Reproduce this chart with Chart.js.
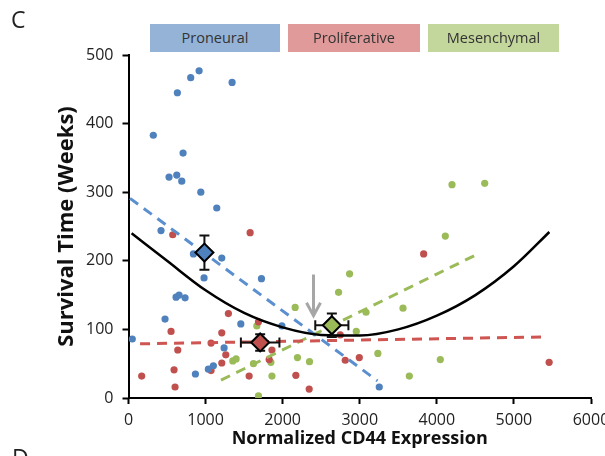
<!DOCTYPE html>
<html>
<head>
<meta charset="utf-8">
<script src="https://cdn.jsdelivr.net/npm/chart.js@4.4.1/dist/chart.umd.min.js"></script>
<style>
  html, body { margin: 0; padding: 0; background: #fff; }
  #wrap { position: relative; width: 605px; height: 456px; overflow: hidden; font-family: "Open Sans", sans-serif; }
  #c { position: absolute; left: 0; top: 0; }
  .panel { position: absolute; font-size: 23px; color: #222; }
  .lg { position: absolute; top: 24px; height: 28px; line-height: 28px; text-align: center; font-size: 14.5px; color: #333; }
</style>
</head>
<body>
<div id="wrap">
  <canvas id="c" width="605" height="456"></canvas>
  <div class="panel" style="left:11px; top:3px;">C</div>
  <div class="panel" style="left:12px; top:441px;">D</div>
  <div class="lg" style="left:150px; width:130px; background:#95B3D7;">Proneural</div>
  <div class="lg" style="left:288px; width:132px; background:#E09A99;">Proliferative</div>
  <div class="lg" style="left:428px; width:131px; background:#C3D69B;">Mesenchymal</div>
</div>
<script>
// ---- data ----
const proneuralX = [916, 807, 634, 1344, 322, 708, 526, 626, 691, 938, 1145, 422, 842, 1210, 980, 1725, 617, 656, 734, 474, 1457, 1990, 49, 1240, 1101, 1036, 868, 3253];
const proneuralY = [477, 467, 445, 460, 383, 357, 322, 325, 316, 300, 277, 244, 210, 204, 175, 174, 147, 150, 146, 115, 108, 105, 86, 73, 47, 42, 35, 16];

const proliferativeX = [574, 1578, 1296, 1686, 552, 1210, 1071, 639, 1262, 1210, 1071, 591, 171, 604, 1565, 1861, 1825, 2747, 2812, 2994, 2171, 2344, 3829, 5457];
const proliferativeY = [238, 241, 123, 111, 97, 95, 80, 70, 63, 51, 40, 41, 32, 16, 32, 70, 56, 92, 55, 59, 33, 13, 210, 52];

const mesenchymalX = [4197, 4621, 4110, 2868, 2725, 3081, 3561, 2162, 2955, 3235, 4045, 3643, 2192, 2348, 1665, 1353, 1396, 1621, 1847, 1861, 1686];
const mesenchymalY = [311, 313, 236, 181, 154, 125, 131, 132, 97, 65, 56, 32, 59, 53, 105, 54, 57, 50, 52, 32, 3];

// linear trend line end points per group
const proneuralTrendX = [20, 3230];
const proneuralTrendY = [291, 25];
const proliferativeTrendX = [150, 5370];
const proliferativeTrendY = [79, 89];
const mesenchymalTrendX = [1200, 4550];
const mesenchymalTrendY = [26, 211];

// overall quadratic fit
const curveX = [40, 500, 1000, 1500, 2000, 2500, 3000, 3500, 4000, 4500, 5000, 5460];
const curveY = [240, 200, 157, 124, 103, 92, 91, 100, 120, 150, 192, 242];

// group means with error bars
const meanNames = ["Proneural", "Proliferative", "Mesenchymal"];
const meanX = [985, 1708, 2638];
const meanY = [212, 81, 106];
const meanXErr = [40, 250, 215];
const meanYErr = [25, 12, 17];

// threshold arrow
const arrowX = 2400;
const arrowY = [180, 120];

const xTicks = [0, 1000, 2000, 3000, 4000, 5000, 6000];
const yTicks = [0, 100, 200, 300, 400, 500];

// ---- chart ----
const BLUE = "#4F81BD", RED = "#C0504D", GREEN = "#9BBB59";
const pts = (xs, ys) => xs.map((x, i) => ({ x: x, y: ys[i] }));

const errorBars = {
  id: "errorBars",
  afterDatasetDraw(chart, args) {
    if (args.index !== 6) return;
    const { ctx, scales: { x, y } } = chart;
    ctx.save();
    ctx.strokeStyle = "#111";
    ctx.lineWidth = 2;
    const cap = 5;
    for (let i = 0; i < meanX.length; i++) {
      const cx = x.getPixelForValue(meanX[i]);
      const cy = y.getPixelForValue(meanY[i]);
      const x0 = x.getPixelForValue(meanX[i] - meanXErr[i]);
      const x1 = x.getPixelForValue(meanX[i] + meanXErr[i]);
      const y0 = y.getPixelForValue(meanY[i] - meanYErr[i]);
      const y1 = y.getPixelForValue(meanY[i] + meanYErr[i]);
      ctx.beginPath();
      ctx.moveTo(x0, cy); ctx.lineTo(x1, cy);
      ctx.moveTo(x0, cy - cap); ctx.lineTo(x0, cy + cap);
      ctx.moveTo(x1, cy - cap); ctx.lineTo(x1, cy + cap);
      ctx.moveTo(cx, y0); ctx.lineTo(cx, y1);
      ctx.moveTo(cx - cap, y0); ctx.lineTo(cx + cap, y0);
      ctx.moveTo(cx - cap, y1); ctx.lineTo(cx + cap, y1);
      ctx.stroke();
    }
    // arrow
    const ax = x.getPixelForValue(arrowX);
    const ayTop = y.getPixelForValue(arrowY[0]);
    const ayTip = y.getPixelForValue(arrowY[1]);
    ctx.strokeStyle = "#A6A6A6";
    ctx.lineWidth = 3;
    ctx.lineCap = "butt";
    ctx.beginPath();
    ctx.moveTo(ax, ayTop); ctx.lineTo(ax, ayTip - 1);
    ctx.stroke();
    ctx.beginPath();
    ctx.moveTo(ax - 7, ayTip - 13); ctx.lineTo(ax, ayTip); ctx.lineTo(ax + 7, ayTip - 13);
    ctx.stroke();
    ctx.restore();
  }
};

new Chart(document.getElementById("c"), {
  type: "scatter",
  data: {
    datasets: [
      { label: "Proneural", data: pts(proneuralX, proneuralY), backgroundColor: BLUE, borderColor: BLUE, pointRadius: 3.6, borderWidth: 0, order: 5 },
      { label: "Proliferative", data: pts(proliferativeX, proliferativeY), backgroundColor: RED, borderColor: RED, pointRadius: 3.6, borderWidth: 0, order: 5 },
      { label: "Mesenchymal", data: pts(mesenchymalX, mesenchymalY), backgroundColor: GREEN, borderColor: GREEN, pointRadius: 3.6, borderWidth: 0, order: 5 },
      { label: "Proneural trend", data: pts(proneuralTrendX, proneuralTrendY), showLine: true, borderColor: "#5B8FCF", borderWidth: 3, borderDash: [10, 7], pointRadius: 0, order: 4 },
      { label: "Proliferative trend", data: pts(proliferativeTrendX, proliferativeTrendY), showLine: true, borderColor: "#CF5552", borderWidth: 3, borderDash: [10, 7], pointRadius: 0, order: 4 },
      { label: "Mesenchymal trend", data: pts(mesenchymalTrendX, mesenchymalTrendY), showLine: true, borderColor: "#9BBB59", borderWidth: 3, borderDash: [10, 7], pointRadius: 0, order: 4 },
      { label: "Quadratic fit", data: pts(curveX, curveY), showLine: true, borderColor: "#000", borderWidth: 2.5, cubicInterpolationMode: "monotone", pointRadius: 0, order: 3 },
      { label: "Means", data: pts(meanX, meanY), pointStyle: "rectRot", pointRadius: 9, backgroundColor: [BLUE, RED, GREEN], borderColor: "#000", borderWidth: 2, order: 1 }
    ]
  },
  options: {
    responsive: false,
    animation: false,
    events: [],
    layout: { padding: { left: 0, right: 14, top: 55, bottom: 0 } },
    plugins: { legend: { display: false }, tooltip: { enabled: false } },
    scales: {
      x: {
        type: "linear", min: 0, max: 6000,
        afterBuildTicks: s => { s.ticks = xTicks.map(v => ({ value: v })); },
        afterFit: s => { s.height = 58; s.paddingRight = 0; s.paddingLeft = 0; },
        ticks: { color: "#222", font: { family: "Open Sans", size: 16 }, padding: 7, maxRotation: 0, callback: v => String(v) },
        grid: { drawOnChartArea: false, drawTicks: true, tickLength: 6, color: "#000", tickWidth: 2 },
        border: { color: "#000", width: 2 },
        title: { display: true, text: "Normalized CD44 Expression", color: "#111", font: { family: "Open Sans", size: 18, weight: "bold" }, padding: { top: 0, bottom: 6 } }
      },
      y: {
        type: "linear", min: 0, max: 500,
        afterBuildTicks: s => { s.ticks = yTicks.map(v => ({ value: v })); },
        afterFit: s => { s.width = 128.5; s.paddingTop = 0; s.paddingBottom = 0; },
        ticks: { color: "#222", font: { family: "Open Sans", size: 16 }, padding: 9, callback: v => String(v) },
        grid: { drawOnChartArea: false, drawTicks: true, tickLength: 6, color: "#000", tickWidth: 2 },
        border: { color: "#000", width: 2 },
        title: { display: true, text: "Survival Time (Weeks)", color: "#111", font: { family: "Open Sans", size: 22, weight: "bold" }, padding: { top: 54, bottom: 0 } }
      }
    }
  },
  plugins: [errorBars]
});
</script>
</body>
</html>
